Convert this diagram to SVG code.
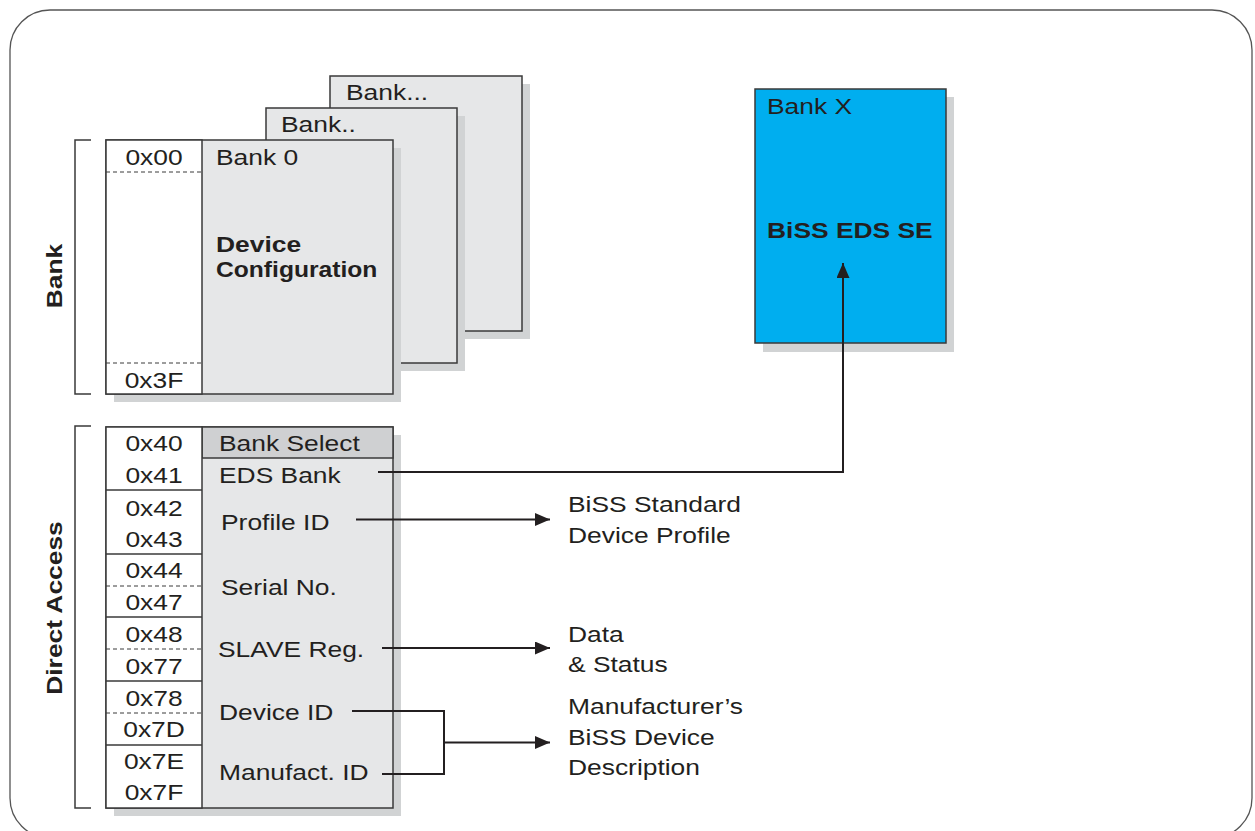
<svg xmlns="http://www.w3.org/2000/svg" width="1255" height="831" viewBox="0 0 1255 831">
<style>
.t{font-family:"Liberation Sans",Arial,sans-serif;font-size:22px;fill:#231f20}
.b{font-weight:bold}
.m{text-anchor:middle}
.box{fill:#e6e7e8;stroke:#3a3a3a;stroke-width:1.5}
.wh{fill:#ffffff;stroke:#3a3a3a;stroke-width:1.5}
.sh{fill:#d1d3d4}
.ln{stroke:#3a3a3a;stroke-width:1.5;fill:none}
.dash{stroke:#3a3a3a;stroke-width:1;stroke-dasharray:4 3;fill:none}
.con{stroke:#231f20;stroke-width:2;fill:none}
</style>
<defs>
<marker id="arr" markerUnits="userSpaceOnUse" markerWidth="16" markerHeight="13" refX="15" refY="6.5" orient="auto">
<path d="M0,0 L15,6.5 L0,13 z" fill="#231f20"/>
</marker>
</defs>
<rect x="10" y="10" width="1242" height="828" rx="40" ry="40" fill="#ffffff" stroke="#555555" stroke-width="1.3"/>

<g id="bracket-bank">
<path class="ln" d="M91,140 H75 V394 H91"/>
<text class="t b m" transform="matrix(0,-1.2,1,0,62,276)">Bank</text>
</g>
<g id="bracket-direct">
<path class="ln" d="M91,426 H75 V808 H91"/>
<text class="t b m" transform="matrix(0,-1.2,1,0,62,608)">Direct Access</text>
</g>

<g id="bank-3">
<rect class="sh" x="338" y="84" width="192" height="255"/>
<rect class="box" x="330" y="76" width="192" height="255"/>
<text class="t" transform="matrix(1.2,0,0,1,346,100)">Bank...</text>
</g>
<g id="bank-2">
<rect class="sh" x="274" y="116" width="191" height="255"/>
<rect class="box" x="266" y="108" width="191" height="255"/>
<text class="t" transform="matrix(1.2,0,0,1,281,132)">Bank..</text>
</g>
<g id="bank-0">
<rect class="sh" x="114" y="148" width="287" height="254"/>
<rect class="box" x="106" y="140" width="287" height="254"/>
<rect class="wh" x="106" y="140" width="96" height="254"/>
<line class="dash" x1="106" y1="172" x2="202" y2="172"/>
<line class="dash" x1="106" y1="363" x2="202" y2="363"/>
<text class="t m" transform="matrix(1.2,0,0,1,154,165)">0x00</text>
<text class="t m" transform="matrix(1.2,0,0,1,154,388)">0x3F</text>
<text class="t" transform="matrix(1.2,0,0,1,216,165)">Bank 0</text>
<text class="t b" transform="matrix(1.2,0,0,1,216,252)">Device</text>
<text class="t b" transform="matrix(1.12,0,0,1,216,277)">Configuration</text>
</g>

<g id="bank-x">
<rect class="sh" x="763" y="97" width="191" height="255"/>
<rect x="755" y="89" width="191" height="254" fill="#00aeef" stroke="#3a3a3a" stroke-width="1.5"/>
<text class="t" transform="matrix(1.2,0,0,1,767,114)">Bank X</text>
<text class="t b" transform="matrix(1.2,0,0,1,767,238)">BiSS EDS SE</text>
</g>

<g id="direct-access">
<rect class="sh" x="114" y="435" width="287" height="381"/>
<rect class="box" x="106" y="427" width="287" height="381"/>
<rect x="202" y="427" width="191" height="31" fill="#cfd0d2" stroke="#3a3a3a" stroke-width="1.5"/>
<rect class="wh" x="106" y="427" width="96" height="381"/>
<line class="ln" x1="106" y1="490" x2="202" y2="490"/>
<line class="ln" x1="106" y1="554" x2="202" y2="554"/>
<line class="ln" x1="106" y1="617" x2="202" y2="617"/>
<line class="ln" x1="106" y1="681" x2="202" y2="681"/>
<line class="ln" x1="106" y1="745" x2="202" y2="745"/>
<line class="dash" x1="106" y1="586" x2="202" y2="586"/>
<line class="dash" x1="106" y1="649" x2="202" y2="649"/>
<line class="dash" x1="106" y1="713" x2="202" y2="713"/>
<text class="t m" transform="matrix(1.2,0,0,1,154,451)">0x40</text>
<text class="t m" transform="matrix(1.2,0,0,1,154,483)">0x41</text>
<text class="t m" transform="matrix(1.2,0,0,1,154,516)">0x42</text>
<text class="t m" transform="matrix(1.2,0,0,1,154,547)">0x43</text>
<text class="t m" transform="matrix(1.2,0,0,1,154,578)">0x44</text>
<text class="t m" transform="matrix(1.2,0,0,1,154,610)">0x47</text>
<text class="t m" transform="matrix(1.2,0,0,1,154,642)">0x48</text>
<text class="t m" transform="matrix(1.2,0,0,1,154,674)">0x77</text>
<text class="t m" transform="matrix(1.2,0,0,1,154,706)">0x78</text>
<text class="t m" transform="matrix(1.2,0,0,1,154,737)">0x7D</text>
<text class="t m" transform="matrix(1.2,0,0,1,154,769)">0x7E</text>
<text class="t m" transform="matrix(1.2,0,0,1,154,800)">0x7F</text>
<text class="t" transform="matrix(1.2,0,0,1,219,451)">Bank Select</text>
<text class="t" transform="matrix(1.2,0,0,1,219,483)">EDS Bank</text>
<text class="t" transform="matrix(1.2,0,0,1,221,530)">Profile ID</text>
<text class="t" transform="matrix(1.2,0,0,1,221,595)">Serial No.</text>
<text class="t" transform="matrix(1.2,0,0,1,218,657)">SLAVE Reg.</text>
<text class="t" transform="matrix(1.2,0,0,1,219,720)">Device ID</text>
<text class="t" transform="matrix(1.2,0,0,1,219,780)">Manufact. ID</text>
</g>

<g id="profile-label">
<text class="t" transform="matrix(1.2,0,0,1,568,512)">BiSS Standard</text>
<text class="t" transform="matrix(1.2,0,0,1,568,543)">Device Profile</text>
</g>
<g id="data-label">
<text class="t" transform="matrix(1.2,0,0,1,568,642)">Data</text>
<text class="t" transform="matrix(1.2,0,0,1,568,672)">&amp; Status</text>
</g>
<g id="manufacturer-label">
<text class="t" transform="matrix(1.2,0,0,1,568,714)">Manufacturer’s</text>
<text class="t" transform="matrix(1.2,0,0,1,568,745)">BiSS Device</text>
<text class="t" transform="matrix(1.2,0,0,1,568,775)">Description</text>
</g>

<g id="connectors">
<path class="con" d="M378,472 H843 V263" marker-end="url(#arr)"/>
<path class="con" d="M356,519.5 H550" marker-end="url(#arr)"/>
<path class="con" d="M382,648 H550" marker-end="url(#arr)"/>
<path class="con" d="M352,711 H444 V774 H382"/>
<path class="con" d="M444,742.5 H550" marker-end="url(#arr)"/>
</g>
</svg>
